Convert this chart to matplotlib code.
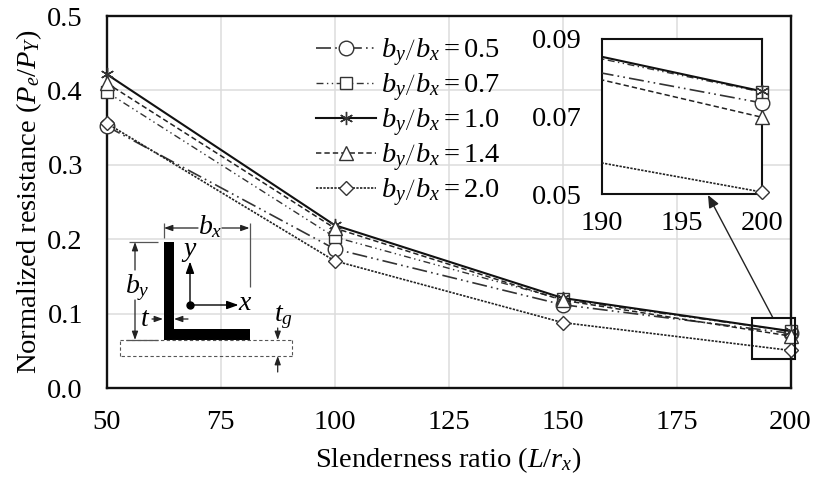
import matplotlib
matplotlib.use("Agg")
import matplotlib.pyplot as plt
from matplotlib.patches import Rectangle, Polygon

plt.rcParams.update({
    'font.family': ['Liberation Serif', 'DejaVu Serif'],
    'mathtext.fontset': 'custom',
    'mathtext.rm': 'Liberation Serif',
    'mathtext.it': 'Liberation Serif:italic',
    'mathtext.bf': 'Liberation Serif:bold',
})

W, H = 814, 480
ratios = [50, 100, 150, 200]
ratio_05 = [0.352, 0.187, 0.112, 0.0735]
ratio_07 = [0.398, 0.203, 0.119, 0.0763]
ratio_10 = [0.422, 0.219, 0.121, 0.0765]
ratio_14 = [0.410, 0.215, 0.118, 0.0698]
ratio_20 = [0.356, 0.171, 0.088, 0.0505]
labels = ['0.5', '0.7', '1.0', '1.4', '2.0']
x_ticks = [50, 75, 100, 125, 150, 175, 200]
y_ticks = [0.0, 0.1, 0.2, 0.3, 0.4, 0.5]
inset_x_ticks = [190, 195, 200]
inset_y_ticks = [0.05, 0.07, 0.09]

series = [
    (ratio_05, 'o', 10.5, (0, (9, 2.5, 1, 2.5, 1, 2.5)), '#333333', 1.2),
    (ratio_07, 's', 8.5, (0, (5, 2.5, 1, 2.5, 1, 2.5)), '#333333', 1.0),
    (ratio_10, (6, 2, 0), 9.5, '-', '#111111', 1.5),
    (ratio_14, '^', 10.5, (0, (3.5, 2)), '#222222', 1.1),
    (ratio_20, 'D', 7.5, (0, (1.4, 0.8)), '#222222', 1.2),
]

def box(l, t, r, b):
    return [l / W, 1 - b / H, (r - l) / W, (b - t) / H]

fig = plt.figure(figsize=(W / 100, H / 100), dpi=100)
ax = fig.add_axes(box(106.5, 16, 790.5, 388))
handles = []
for (vals, m, ms, ls, c, lw), lab in zip(series, labels):
    h, = ax.plot(ratios, vals, linestyle=ls, color=c, lw=lw, marker=m, ms=ms,
                 mfc='white', mec='#333333', mew=1.0, clip_on=False, zorder=3,
                 label=r'$b_y\left/b_x\right.=' + lab + '$')
    handles.append(h)
ax.set_xlim(50, 200)
ax.set_ylim(0, 0.5)
ax.set_xticks(x_ticks)
ax.set_yticks(y_ticks)
ax.set_yticklabels([f'{v:.1f}' for v in y_ticks])
ax.grid(True, color='#dcdcdc', lw=1.1)
ax.set_axisbelow(True)
ax.tick_params(length=0, labelsize=20.5)
ax.tick_params(axis='y', pad=17)
ax.tick_params(axis='x', pad=16)
for s in ax.spines.values():
    s.set_linewidth(1.7)
    s.set_color('#111111')
ax.set_xlabel(r'Slenderness ratio ($L/r_x$)', fontsize=20.5, labelpad=7.5)
ax.set_ylabel(r'Normalized resistance ($P_e/P_Y$)', fontsize=20.5, labelpad=2.5)
ax.legend(handles=handles, loc='upper left',
          bbox_to_anchor=((316 - 106.5) / 684, 1 - (36 - 16) / 372),
          frameon=False, fontsize=20.5, handlelength=2.1, handletextpad=0.2,
          labelspacing=0.08, borderpad=0, borderaxespad=0, numpoints=1)

# Inset
axi = fig.add_axes(box(602, 39, 762, 194), zorder=4)
axi.set_facecolor('white')
for vals, m, ms, ls, c, lw in series:
    axi.plot(ratios, vals, linestyle=ls, color=c, lw=lw, zorder=3)
    axi.plot(ratios[-1:], vals[-1:], linestyle='none', marker=m, ms=ms, mfc='white',
             mec='#333333', mew=1.0, clip_on=False, zorder=5)
axi.set_xlim(190, 200)
axi.set_ylim(0.05, 0.09)
axi.set_xticks(inset_x_ticks)
axi.set_yticks(inset_y_ticks)
axi.set_yticklabels([f'{v:.2f}' for v in inset_y_ticks])
axi.tick_params(length=0, labelsize=20.5)
axi.tick_params(axis='y', pad=14.5)
axi.tick_params(axis='x', pad=12)
for s in axi.spines.values():
    s.set_linewidth(1.5)
    s.set_color('#111111')

# Overlay in pixel coordinates for the annotations
ov = fig.add_axes([0, 0, 1, 1], zorder=6)
ov.set_xlim(0, W)
ov.set_ylim(H, 0)
ov.axis('off')
ov.patch.set_alpha(0)

ov.add_patch(Rectangle((752, 318), 43, 41, fill=False, ec='#111111', lw=1.5, zorder=7))
ov.annotate('', xy=(708, 195), xytext=(773, 318),
            arrowprops=dict(arrowstyle='-|>,head_length=0.75,head_width=0.32',
                            color='#222222', lw=1.0, shrinkA=0, shrinkB=0))

# Angle section
ov.add_patch(Polygon([(163.5, 241.7), (174, 241.7), (174, 329.3), (249.5, 329.3),
                      (249.5, 340), (163.5, 340)], closed=True, fc='black', ec='none'))
g = '#555555'
def seg(x0, y0, x1, y1, ls='-', lw=0.9):
    ov.plot([x0, x1], [y0, y1], color=g, lw=lw, ls=ls, solid_capstyle='butt')
def arrow(x0, y0, x1, y1, c='#222222', lw=0.9, hl=0.5, hw=0.18):
    ov.annotate('', xy=(x1, y1), xytext=(x0, y0),
                arrowprops=dict(arrowstyle=f'-|>,head_length={hl},head_width={hw}',
                                color=c, lw=lw, shrinkA=0, shrinkB=0))
dash = (0, (3, 2.2))
seg(120, 340, 291.5, 340, dash, 0.8)
seg(291.5, 340, 291.5, 355.7, dash, 0.8)
seg(291.5, 355.7, 120, 355.7, dash, 0.8)
seg(120, 355.7, 120, 340, dash, 0.8)
seg(126, 340, 158, 340)
seg(129, 241.7, 158, 241.7)
seg(164, 222.7, 164, 238)
seg(249.5, 223, 249.5, 287)
arrow(198, 228, 164, 228)
arrow(222, 228, 249.5, 228)
arrow(135, 270, 135, 242)
arrow(135, 300, 135, 340)
arrow(152, 319, 163, 319)
arrow(188, 319, 174, 319)
arrow(190, 305, 190, 261.5, c='black', lw=1.0, hl=0.7, hw=0.25)
arrow(190, 305, 238.5, 305, c='black', lw=1.0, hl=0.7, hw=0.25)
ov.plot([190], [305], 'o', color='black', ms=5)
arrow(277.7, 328, 277.7, 340)
arrow(277.7, 372, 277.7, 356)
ov.text(210, 227, r'$b_x$', fontsize=20, ha='center', va='center')
ov.text(137, 288, r'$b_y$', fontsize=20, ha='center', va='center')
ov.text(145, 319, r'$t$', fontsize=20, ha='center', va='center')
ov.text(189, 252, r'$y$', fontsize=20, ha='center', va='center')
ov.text(245, 304, r'$x$', fontsize=20, ha='center', va='center')
ov.text(283, 317, r'$t_g$', fontsize=20, ha='center', va='center')

fig.savefig('out.png', dpi=100)
